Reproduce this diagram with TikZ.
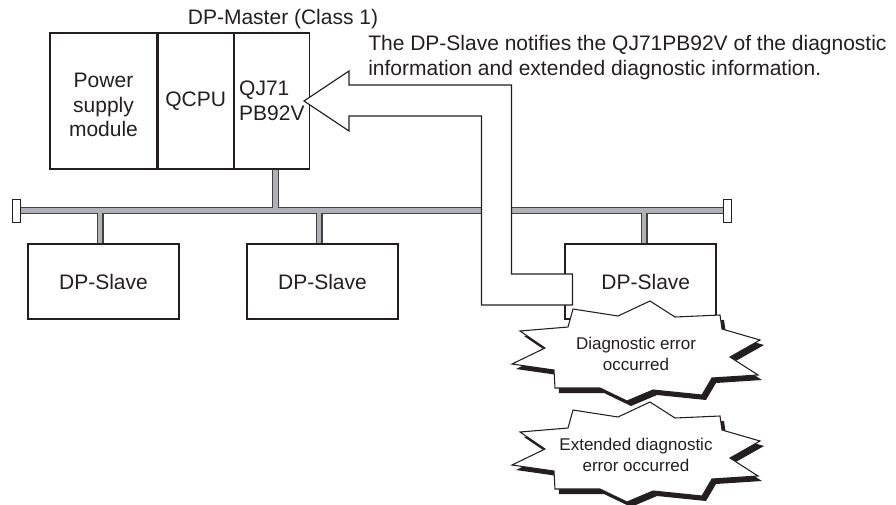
\documentclass[tikz,border=0pt]{standalone}
\usepackage{fontspec}
\setmainfont{Liberation Sans}
\usetikzlibrary{positioning,calc,backgrounds}
\definecolor{ink}{RGB}{35,31,32}
\definecolor{busgray}{RGB}{176,177,182}
\newcommand{\burstpath}{(-63,-44) -- (-18,-37) -- (14,-52) -- (39,-36) -- (84,-38) -- (86,-24) -- (124,-13) -- (94,4) -- (122,22) -- (76,25) -- (66,42) -- (17,37) -- (-9,48) -- (-36,35) -- (-81,35) -- (-82,17) -- (-124,11) -- (-91,-5) -- (-116,-22) -- (-68,-26) -- cycle}

\begin{document}
\begin{tikzpicture}[x=0.75pt,y=-0.75pt,
  every node/.style={text=ink,font=\fontsize{15.75}{18.4}\selectfont},
  box/.style={draw=ink,line width=0.9pt,inner sep=0pt,align=center,minimum height=102pt},
  slavebox/.style={draw=ink,line width=0.9pt,inner sep=0pt,minimum width=113.25pt,minimum height=56.25pt},
  term/.style={draw=ink,fill=white,line width=0.7pt,inner sep=0pt,minimum width=6pt,minimum height=17.25pt},
  busout/.style={draw=ink!85,line width=5.25pt},
  busin/.style={draw=busgray,line width=3.3pt},
  blockarrow/.style={draw=ink,fill=white,line width=0.9pt,line join=miter},
  burst/.style={draw=ink,fill=white,line width=0.8pt},
  bursttext/.style={align=center,font=\fontsize{12.75}{15.75}\selectfont}]
\useasboundingbox (0,0) rectangle (896,504);
% ---- DP-Master ----
\node[box,minimum width=80.25pt] (psu) at (103.5,101) {\rule{0pt}{17pt}Power\\supply\\module};
\node[box,minimum width=56.25pt,right=0pt of psu] (cpu) {QCPU};
\node[box,minimum width=56.25pt,right=0pt of cpu,align=left] (qj) {QJ71\\PB92V};
\node[anchor=base] (master) at (283,24) {DP-Master (Class 1)};
% ---- slaves and terminators ----
\node[slavebox] (slaveA) at (103.5,281.5) {DP-Slave};
\node[slavebox] (slaveB) at (322.5,281.5) {DP-Slave};
\node[slavebox] (slaveC) at (640.5,281.5) {\hspace*{8pt}DP-Slave};
\node[term] (termL) at (16.7,210.5) {};
\node[term] (termR) at (727,210.5) {};
% ---- bus ----
\begin{scope}[on background layer]
\foreach \pass in {busout,busin}{
  \draw[\pass] (termL.east) -- (termR.west);
  \foreach \s/\dx in {qj.south/3.5,slaveA.north/-3.5,slaveB.north/-3.5,slaveC.north/3.5}
    \draw[\pass] ($(\s)+(\dx,0)$) coordinate (tap) -- (tap |- termL.east);
}
\end{scope}
% ---- notification arrow ----
\coordinate (tip) at ($(qj.east)+(-6,0)$);
\coordinate (tail) at ($(slaveC.west)+(8,8)$);
\draw[blockarrow] (tip) -- ++(45,-30) -- ++(0,14) -| ($(tail)+(-61,-15.5)$) -- ++(61,0) -- ++(0,31) -- ++(-91,0) |- ($(tip)+(45,15)$) -- ++(0,15) -- cycle;
\node[anchor=north west,inner sep=0pt,align=left] (note) at (368,35) {The DP-Slave notifies the QJ71PB92V of the diagnostic\\information and extended diagnostic information.};
% ---- error bursts ----
\foreach \cy/\msg/\nm in {353/{Diagnostic error\\occurred}/diag,454/{Extended diagnostic\\error occurred}/extdiag}{
  \begin{scope}[shift={(636,\cy)}]
    \fill[ink,shift={(4,5)}] \burstpath;
    \draw[burst] \burstpath;
    \node[bursttext] (\nm) at (0,1) {\msg};
  \end{scope}
}
\end{tikzpicture}
\end{document}
